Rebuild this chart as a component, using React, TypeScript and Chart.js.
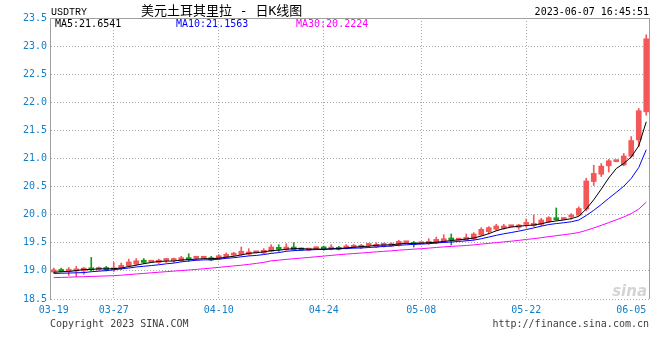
import React, { useEffect, useRef } from 'react';
import { Chart, registerables } from 'chart.js';

Chart.register(...registerables);

const dates = [
  '03-19','03-20','03-21','03-22','03-23','03-24','03-25','03-26','03-27','03-28','03-29','03-30','03-31',
  '04-01','04-02','04-03','04-04','04-05','04-06','04-07','04-08','04-09','04-10','04-11','04-12','04-13','04-14','04-15',
  '04-16','04-17','04-18','04-19','04-20','04-21','04-22','04-23','04-24','04-25','04-26','04-27','04-28','04-29','04-30',
  '05-02','05-03','05-04','05-05','05-06','05-07','05-08','05-09','05-10','05-11','05-12','05-13','05-14','05-15','05-16',
  '05-17','05-18','05-19','05-20','05-21','05-22','05-23','05-24','05-25','05-26','05-27','05-28','05-29','05-30','05-31',
  '06-01','06-02','06-03','06-04','06-05','06-06','06-07'
];

const opens = [
  18.98, 19.02, 18.99, 19.00, 19.00, 19.05, 19.02, 19.06, 19.02, 19.05,
  19.09, 19.12, 19.19, 19.155, 19.15, 19.185, 19.185, 19.18, 19.21, 19.225,
  19.225, 19.235, 19.21, 19.24, 19.28, 19.29, 19.295, 19.322, 19.318, 19.348,
  19.407, 19.378, 19.425, 19.396, 19.37, 19.394, 19.40, 19.384, 19.413, 19.405,
  19.419, 19.419, 19.453, 19.425, 19.453, 19.443, 19.455, 19.500, 19.476, 19.483,
  19.485, 19.502, 19.514, 19.58, 19.548, 19.55, 19.568, 19.639, 19.699, 19.740,
  19.758, 19.786, 19.776, 19.827, 19.805, 19.829, 19.877, 19.935, 19.915, 19.96,
  19.99, 20.10, 20.59, 20.72, 20.87, 20.945, 20.885, 21.04, 21.33, 21.83
];

const closes = [
  19.02, 18.99, 19.03, 19.03, 19.05, 19.02, 19.06, 19.02, 19.05, 19.10,
  19.16, 19.18, 19.15, 19.16, 19.19, 19.19, 19.19, 19.235, 19.20, 19.23,
  19.23, 19.195, 19.27, 19.295, 19.31, 19.35, 19.338, 19.326, 19.366, 19.425,
  19.384, 19.425, 19.378, 19.372, 19.375, 19.398, 19.392, 19.425, 19.384, 19.445,
  19.455, 19.455, 19.457, 19.473, 19.457, 19.485, 19.526, 19.504, 19.470, 19.487,
  19.526, 19.562, 19.573, 19.55, 19.552, 19.598, 19.657, 19.740, 19.770, 19.799,
  19.799, 19.790, 19.817, 19.832, 19.847, 19.906, 19.948, 19.91, 19.92, 19.965,
  20.11, 20.60, 20.735, 20.865, 20.96, 20.95, 21.045, 21.32, 21.85, 23.13
];

const highs = [
  19.05, 19.05, 19.06, 19.08, 19.06, 19.24, 19.07, 19.08, 19.15, 19.14,
  19.21, 19.22, 19.22, 19.17, 19.21, 19.22, 19.23, 19.26, 19.305, 19.26,
  19.235, 19.26, 19.29, 19.32, 19.33, 19.425, 19.395, 19.328, 19.396, 19.467,
  19.467, 19.484, 19.502, 19.407, 19.385, 19.425, 19.443, 19.467, 19.437, 19.468,
  19.47, 19.473, 19.485, 19.502, 19.496, 19.50, 19.544, 19.506, 19.526, 19.49,
  19.573, 19.603, 19.645, 19.657, 19.555, 19.657, 19.681, 19.770, 19.788, 19.829,
  19.829, 19.792, 19.829, 19.924, 19.995, 19.936, 19.966, 20.12, 19.925, 20.02,
  20.14, 20.65, 20.88, 20.91, 20.985, 20.955, 21.09, 21.39, 21.89, 23.20
];

const lows = [
  18.96, 18.98, 18.92, 18.90, 18.94, 19.00, 19.01, 19.00, 18.99, 19.02,
  19.07, 19.10, 19.13, 19.15, 19.13, 19.15, 19.15, 19.17, 19.17, 19.19,
  19.22, 19.18, 19.20, 19.23, 19.26, 19.28, 19.28, 19.32, 19.307, 19.336,
  19.348, 19.366, 19.366, 19.36, 19.36, 19.378, 19.366, 19.372, 19.372, 19.39,
  19.41, 19.396, 19.42, 19.413, 19.425, 19.435, 19.443, 19.498, 19.425, 19.48,
  19.473, 19.485, 19.502, 19.46, 19.545, 19.538, 19.55, 19.627, 19.657, 19.716,
  19.740, 19.784, 19.740, 19.776, 19.788, 19.805, 19.859, 19.90, 19.91, 19.92,
  19.98, 20.07, 20.52, 20.68, 20.76, 20.94, 20.87, 21.02, 21.21, 21.77
];

const ma5 = [
  18.975, 18.985, 18.99, 19.005, 19.024, 19.024, 19.038, 19.036, 19.04, 19.05,
  19.078, 19.102, 19.128, 19.15, 19.168, 19.174, 19.176, 19.193, 19.201, 19.209,
  19.217, 19.218, 19.225, 19.244, 19.26, 19.284, 19.313, 19.324, 19.338, 19.361,
  19.368, 19.385, 19.396, 19.397, 19.387, 19.39, 19.383, 19.392, 19.395, 19.409,
  19.42, 19.433, 19.439, 19.457, 19.459, 19.465, 19.48, 19.489, 19.488, 19.494,
  19.503, 19.51, 19.524, 19.54, 19.553, 19.567, 19.586, 19.619, 19.663, 19.713,
  19.753, 19.78, 19.795, 19.807, 19.817, 19.838, 19.87, 19.889, 19.906, 19.93,
  19.971, 20.101, 20.266, 20.455, 20.654, 20.822, 20.911, 21.028, 21.225, 21.6541
];

const ma10 = [
  18.955, 18.958, 18.962, 18.966, 18.97, 18.985, 18.995, 19.005, 19.02, 19.037,
  19.051, 19.07, 19.082, 19.095, 19.109, 19.126, 19.139, 19.161, 19.176, 19.189,
  19.196, 19.197, 19.209, 19.223, 19.235, 19.251, 19.266, 19.275, 19.291, 19.311,
  19.326, 19.349, 19.36, 19.368, 19.374, 19.379, 19.384, 19.394, 19.396, 19.398,
  19.405, 19.408, 19.416, 19.426, 19.434, 19.443, 19.457, 19.464, 19.473, 19.477,
  19.484, 19.495, 19.507, 19.514, 19.524, 19.535, 19.548, 19.572, 19.602, 19.633,
  19.66, 19.683, 19.707, 19.735, 19.765, 19.796, 19.825, 19.842, 19.857, 19.874,
  19.905, 19.986, 20.078, 20.181, 20.292, 20.397, 20.506, 20.647, 20.84, 21.1563
];

const ma30 = [
  18.88, 18.884, 18.888, 18.893, 18.897, 18.901, 18.906, 18.91, 18.915, 18.924,
  18.934, 18.945, 18.955, 18.966, 18.976, 18.986, 18.996, 19.006, 19.016, 19.027,
  19.038, 19.05, 19.063, 19.076, 19.089, 19.101, 19.116, 19.133, 19.152, 19.179,
  19.191, 19.205, 19.217, 19.228, 19.239, 19.252, 19.263, 19.276, 19.288, 19.299,
  19.309, 19.318, 19.328, 19.339, 19.348, 19.357, 19.369, 19.378, 19.387, 19.395,
  19.405, 19.417, 19.427, 19.436, 19.444, 19.452, 19.463, 19.477, 19.49, 19.503,
  19.516, 19.529, 19.543, 19.559, 19.574, 19.591, 19.61, 19.626, 19.644, 19.661,
  19.683, 19.721, 19.764, 19.81, 19.86, 19.909, 19.96, 20.02, 20.1, 20.2224
];

const xTickLabels = ['03-19', '03-27', '04-10', '04-24', '05-08', '05-22', '06-05'];
const yMin = 18.5;
const yMax = 23.5;
const yStep = 0.5;

const symbol = 'USDTRY';
const title = '美元土耳其里拉 - 日K线图';
const stamp = '2023-06-07 16:45:51';
const copyright = 'Copyright 2023 SINA.COM';
const site = 'http://finance.sina.com.cn';

const RED = '#f45757';
const GREEN = '#14991a';
const BLUE = '#1580c8';
const MONO = "'DejaVu Sans Mono', monospace";

export default function App() {
  const ref = useRef<HTMLCanvasElement>(null);

  useEffect(() => {
    const canvas = ref.current;
    if (!canvas) return;
    const isUp = (i: number) => closes[i] >= opens[i];
    const colorFor = (ctx: any) => (isUp(ctx.dataIndex) ? RED : GREEN);
    const tickIdx = xTickLabels.map((l) => dates.indexOf(l));
    const noGrid = [dates.indexOf('03-19'), dates.indexOf('06-05')];

    const decor = {
      id: 'decor',
      afterDraw(chart: any) {
        const c = chart.ctx as CanvasRenderingContext2D;
        const a = chart.chartArea;
        c.save();
        // frame top & right
        c.strokeStyle = '#a0a0a0';
        c.lineWidth = 1;
        c.beginPath();
        c.moveTo(a.left, Math.round(a.top) + 0.5);
        c.lineTo(a.right, Math.round(a.top) + 0.5);
        c.moveTo(Math.round(a.right) - 0.5, a.top);
        c.lineTo(Math.round(a.right) - 0.5, a.bottom);
        c.stroke();

        // watermark
        c.fillStyle = '#d4d4d4';
        c.font = "italic bold 15px 'DejaVu Sans', sans-serif";
        c.textAlign = 'right';
        c.textBaseline = 'alphabetic';
        c.fillText('sina', a.right - 3, a.bottom - 3);

        c.textBaseline = 'middle';
        c.textAlign = 'left';
        c.fillStyle = '#000';
        c.font = "10px 'Liberation Mono', monospace";
        c.fillText(symbol, 51, 12);
        c.font = "13px 'DejaVu Sans Mono', 'Noto Sans CJK SC', sans-serif";
        c.fillText(title, 141, 12);
        c.font = `10px ${MONO}`;
        c.textAlign = 'right';
        c.fillText(stamp, 649, 12);

        c.textAlign = 'left';
        c.fillStyle = '#000';
        c.fillText(`MA5:${ma5[ma5.length - 1].toFixed(4)}`, 55, 24);
        c.fillStyle = '#0000ff';
        c.fillText(`MA10:${ma10[ma10.length - 1].toFixed(4)}`, 176, 24);
        c.fillStyle = '#ff00ff';
        c.fillText(`MA30:${ma30[ma30.length - 1].toFixed(4)}`, 296, 24);

        c.fillStyle = '#404040';
        c.fillText(copyright, 50, 324);
        c.textAlign = 'right';
        c.fillText(site, 649, 324);
        c.restore();
      },
    };

    const line = (label: string, data: number[], color: string) => ({
      type: 'line' as const,
      label,
      data,
      borderColor: color,
      backgroundColor: color,
      borderWidth: 1,
      pointRadius: 0,
      tension: 0,
      order: 0,
    });

    const chart = new Chart(canvas, {
      type: 'bar',
      data: {
        labels: dates,
        datasets: [
          line('MA5', ma5, '#000000'),
          line('MA10', ma10, '#0000ff'),
          line('MA30', ma30, '#ff00ff'),
          {
            type: 'bar',
            label: 'body',
            data: opens.map((o, i) => [o, closes[i]]) as any,
            backgroundColor: colorFor,
            barThickness: 5,
            minBarLength: 2,
            grouped: false,
            order: 1,
          } as any,
          {
            type: 'bar',
            label: 'wick',
            data: lows.map((l, i) => [l, highs[i]]) as any,
            backgroundColor: colorFor,
            barThickness: 1,
            grouped: false,
            order: 2,
          } as any,
        ],
      },
      options: {
        responsive: false,
        animation: false,
        devicePixelRatio: 1,
        layout: { padding: { top: 18, right: 10, left: 0, bottom: 0 } },
        plugins: { legend: { display: false }, tooltip: { enabled: false } },
        scales: {
          x: {
            offset: true,
            grid: {
              offset: false,
              drawTicks: false,
              color: (ctx: any) =>
                ctx.tick && noGrid.includes(ctx.tick.value) ? 'rgba(0,0,0,0)' : '#a8a8a8',
            },
            border: { display: false, dash: [1, 2] },
            ticks: {
              autoSkip: false,
              maxRotation: 0,
              padding: 5,
              color: BLUE,
              font: { family: MONO, size: 10 },
            },
            afterBuildTicks: (s: any) => {
              s.ticks = s.ticks.filter((t: any) => tickIdx.includes(t.value));
            },
            afterFit: (s: any) => {
              s.height = 61;
            },
          },
          y: {
            min: yMin,
            max: yMax,
            ticks: {
              stepSize: yStep,
              padding: 3,
              color: BLUE,
              font: { family: MONO, size: 10 },
              callback: (v: any) => Number(v).toFixed(1),
            },
            grid: { color: '#a8a8a8', drawTicks: false },
            border: { display: true, color: '#a0a0a0', dash: [1, 2] },
            afterFit: (s: any) => {
              s.width = 50;
            },
          },
        },
      } as any,
      plugins: [decor],
    });

    return () => chart.destroy();
  }, []);

  return (
    <div style={{ position: 'absolute', left: 0, top: 0, width: 660, height: 360, background: '#fff' }}>
      <canvas ref={ref} width={660} height={360} style={{ display: 'block' }} />
    </div>
  );
}
